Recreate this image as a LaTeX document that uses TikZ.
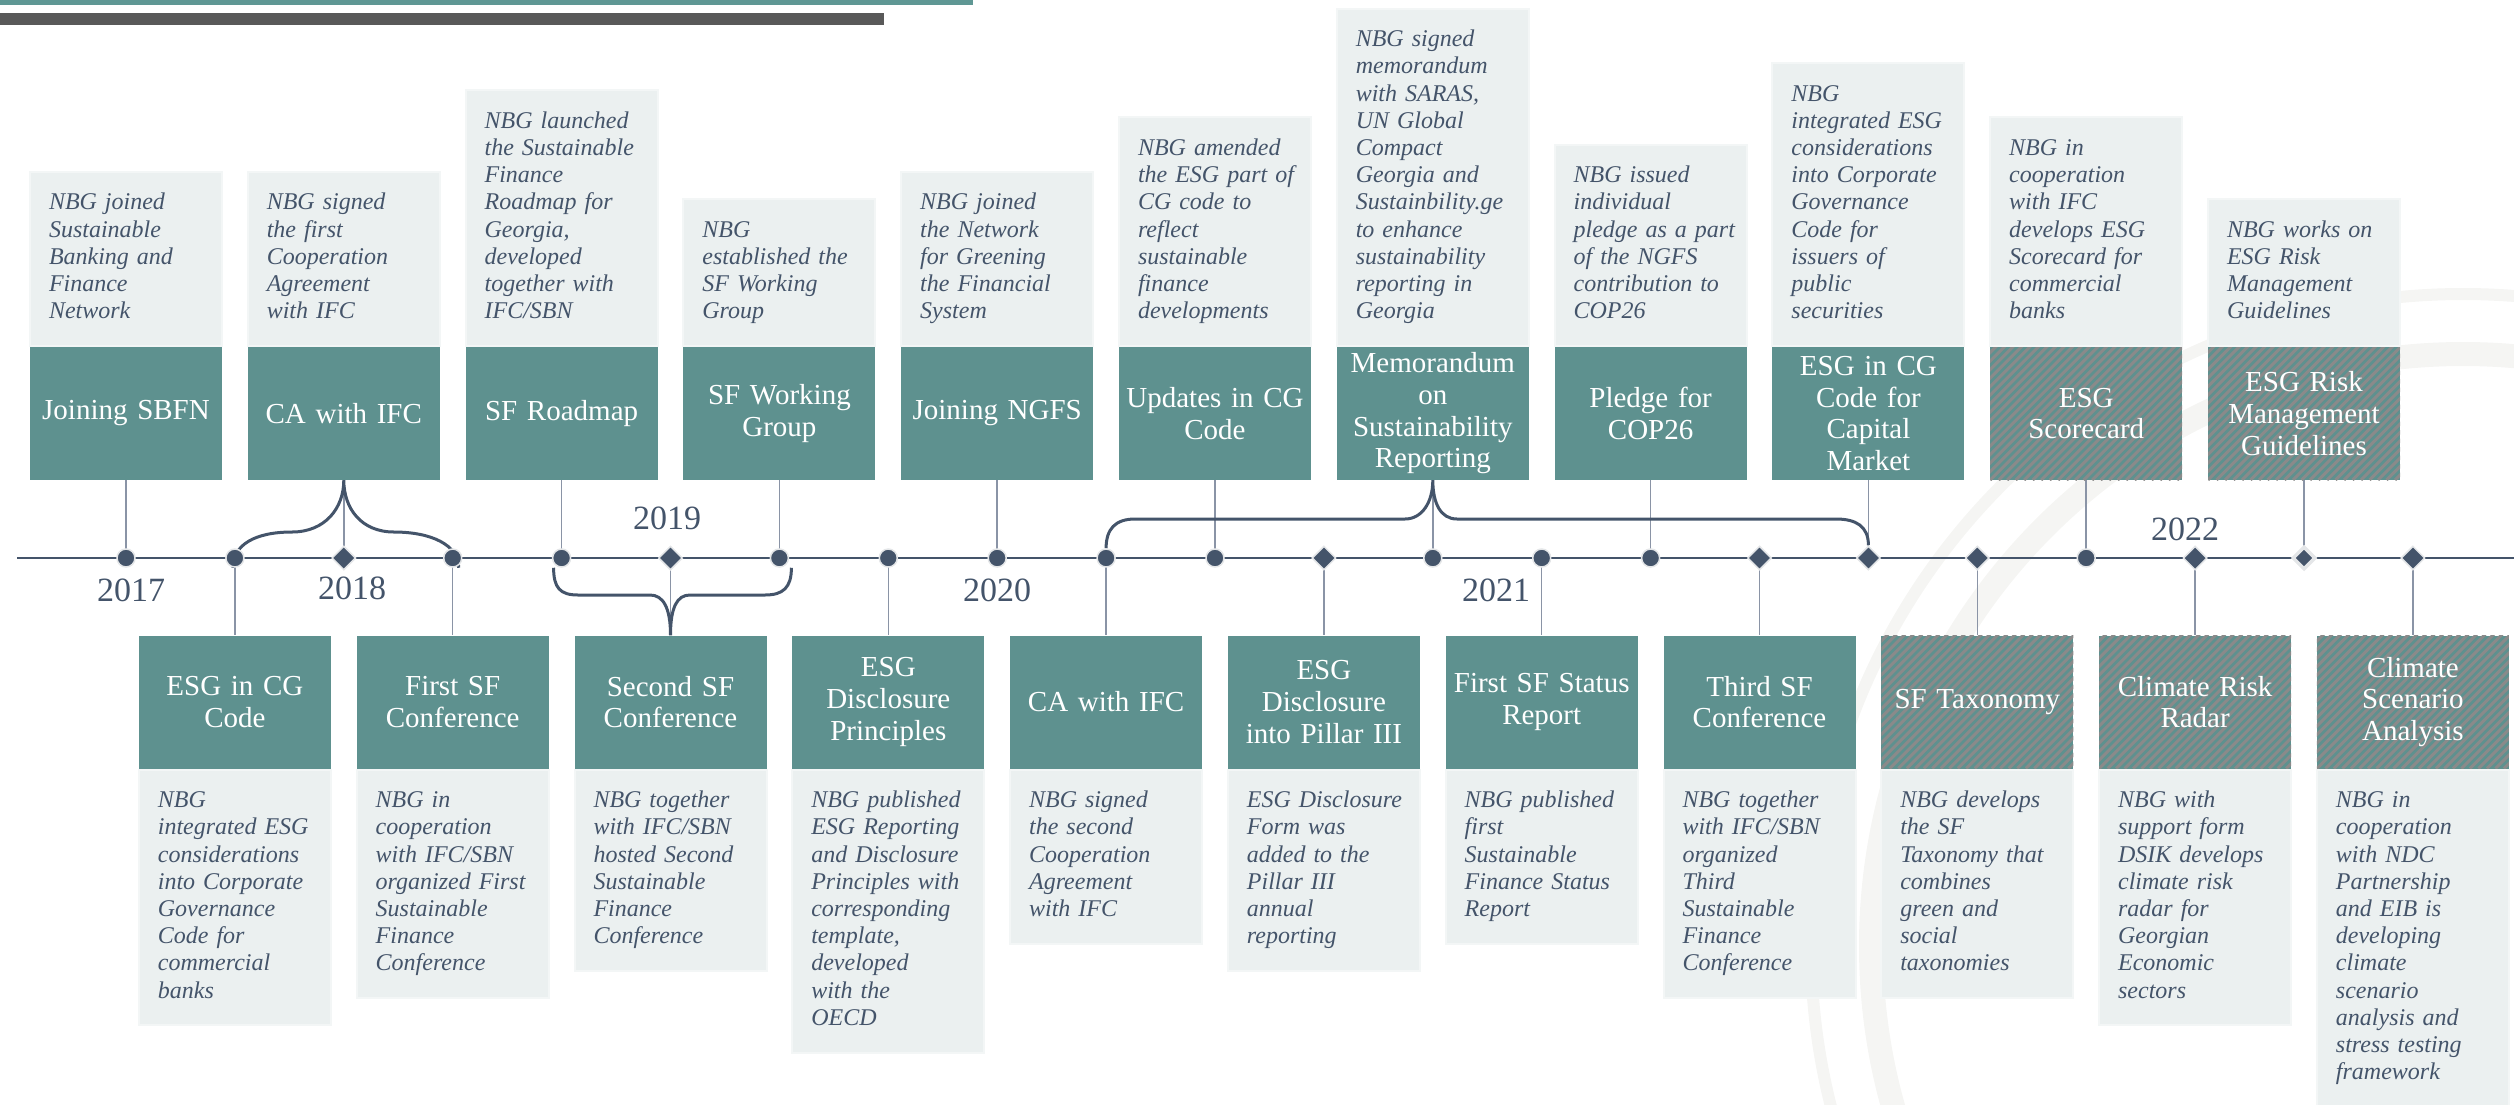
\documentclass[tikz,border=0pt]{standalone}
\usepackage{fontspec}
\setmainfont{Liberation Serif}
\usepackage{tikz}
\usetikzlibrary{shapes.geometric,backgrounds}
\definecolor{boxteal}{HTML}{5E918F}
\definecolor{barteal}{HTML}{5F9794}
\definecolor{bargray}{HTML}{595959}
\definecolor{descfill}{HTML}{EBF0F0}
\definecolor{descrim}{HTML}{F3F6F6}
\definecolor{slate}{HTML}{44546A}
\definecolor{linkgray}{HTML}{8A94A6}
\definecolor{halo}{HTML}{E4E6E8}
\definecolor{stripegray}{HTML}{8A8A8A}
\definecolor{sealgray}{HTML}{F5F5F3}
\newcommand{\headfont}{\fontsize{29}{31.7}\selectfont}
\newcommand{\descfont}{\fontsize{24}{27.2}\selectfont\itshape}
\tikzset{
    plain/.style={},
    headbox/.style={fill=boxteal, text=white, minimum width=192pt, minimum height=133pt,
        text width=186pt, align=center, inner sep=0pt, font=\headfont},
    hatched/.style={path picture={
        \foreach \k in {-17,...,24}{
            \draw[stripegray, line width=3pt] ([xshift=\k*8.5pt]path picture bounding box.south west) -- ++(200pt,200pt);
        }
    }},
    descbox/.style={fill=descfill, draw=descrim, line width=2pt, minimum width=192pt,
        text width=175pt, align=left, inner xsep=8.5pt, inner ysep=19pt, font=\descfont, text=slate,
        execute at begin node={\leftskip=10.5pt\strut}, execute at end node={\strut}},
    dotmark/.style={circle, fill=slate, draw=halo, line width=1.5pt, minimum size=18pt, inner sep=0pt},
    gemmark/.style={diamond, fill=slate, draw=halo, line width=1.5pt, minimum size=24pt, inner sep=0pt},
    gemsmall/.style={diamond, fill=slate, draw=halo, line width=3.5pt, minimum size=23pt, inner sep=0pt},
    yearlbl/.style={font=\fontsize{34}{34}\selectfont, text=slate},
    link/.style={linkgray, line width=1.5pt},
    brace/.style={slate, line width=3pt},
    seal/.style={sealgray, line width=#1},
    seal/.default=24pt
}
\begin{document}
\begin{tikzpicture}[x=1pt,y=1pt]
    \useasboundingbox (0,0) rectangle (2514,-1104);
    \fill[barteal] (0,0) rectangle (973,-5);
    \fill[bargray] (0,-13) rectangle (884,-25);

    \foreach \i/\sty/\hd/\dsc in {
        0/plain/{Joining SBFN}/{NBG joined\\Sustainable\\Banking and\\Finance\\Network},
        2/plain/{CA with IFC}/{NBG signed\\the first\\Cooperation\\Agreement\\with IFC},
        4/plain/{SF Roadmap}/{NBG launched\\the Sustainable\\Finance\\Roadmap for\\Georgia,\\developed\\together with\\IFC/SBN},
        6/plain/{SF Working\\Group}/{NBG\\established the\\SF Working\\Group},
        8/plain/{Joining NGFS}/{NBG joined\\the Network\\for Greening\\the Financial\\System},
        10/plain/{Updates in CG\\Code}/{NBG amended\\the ESG part of\\CG code to\\reflect\\sustainable\\finance\\developments},
        12/plain/{Memorandum\\on\\Sustainability\\Reporting}/{NBG signed\\memorandum\\with SARAS,\\UN Global\\Compact\\Georgia and\\Sustainbility.ge\\to enhance\\sustainability\\reporting in\\Georgia},
        14/plain/{Pledge for\\COP26}/{NBG issued\\individual\\pledge as a part\\of the NGFS\\contribution to\\COP26},
        16/plain/{ESG in CG\\Code for\\Capital\\Market}/{NBG\\integrated ESG\\considerations\\into Corporate\\Governance\\Code for\\issuers of\\public\\securities},
        18/hatched/{ESG\\Scorecard}/{NBG in\\cooperation\\with IFC\\develops ESG\\Scorecard for\\commercial\\banks},
        20/hatched/{ESG Risk\\Management\\Guidelines}/{NBG works on\\ESG Risk\\Management\\Guidelines}}{
        \node[headbox,\sty] (h\i) at (126+108.9*\i,-413.5) {\hd};
        \node[descbox,anchor=south] (d\i) at (h\i.north) {\dsc};
    }
    \foreach \i/\sty/\hd/\dsc in {
        1/plain/{ESG in CG\\Code}/{NBG\\integrated ESG\\considerations\\into Corporate\\Governance\\Code for\\commercial\\banks},
        3/plain/{First SF\\Conference}/{NBG in\\cooperation\\with IFC/SBN\\organized First\\Sustainable\\Finance\\Conference},
        5/plain/{Second SF\\Conference}/{NBG together\\with IFC/SBN\\hosted Second\\Sustainable\\Finance\\Conference},
        7/plain/{ESG\\Disclosure\\Principles}/{NBG published\\ESG Reporting\\and Disclosure\\Principles with\\corresponding\\template,\\developed\\with the\\OECD},
        9/plain/{CA with IFC}/{NBG signed\\the second\\Cooperation\\Agreement\\with IFC},
        11/plain/{ESG\\Disclosure\\into Pillar III}/{ESG Disclosure\\Form was\\added to the\\Pillar III\\annual\\reporting},
        13/plain/{First SF Status\\Report}/{NBG published\\first\\Sustainable\\Finance Status\\Report},
        15/plain/{Third SF\\Conference}/{NBG together\\with IFC/SBN\\organized\\Third\\Sustainable\\Finance\\Conference},
        17/hatched/{SF Taxonomy}/{NBG develops\\the SF\\Taxonomy that\\combines\\green and\\social\\taxonomies},
        19/hatched/{Climate Risk\\Radar}/{NBG with\\support form\\DSIK develops\\climate risk\\radar for\\Georgian\\Economic\\sectors},
        21/hatched/{Climate\\Scenario\\Analysis}/{NBG in\\cooperation\\with NDC\\Partnership\\and EIB is\\developing\\climate\\scenario\\analysis and\\stress testing\\framework}}{
        \node[headbox,\sty] (h\i) at (126+108.9*\i,-702) {\hd};
        \node[descbox,anchor=north] (d\i) at (h\i.south) {\dsc};
    }

    \foreach \i/\kind in {0/dotmark,1/dotmark,2/gemmark,3/dotmark,4/dotmark,5/gemmark,6/dotmark,
        7/dotmark,8/dotmark,9/dotmark,10/dotmark,11/gemmark,12/dotmark,13/dotmark,14/dotmark,
        15/gemmark,16/gemmark,17/gemmark,18/dotmark,19/gemmark,20/gemsmall,21/gemmark}{
        \node[\kind] (m\i) at (126+108.9*\i,-558) {};
    }

    \node[yearlbl] (y2017) at (131,-590) {2017};
    \node[yearlbl] (y2018) at (352,-588) {2018};
    \node[yearlbl] (y2019) at (667,-518) {2019};
    \node[yearlbl] (y2020) at (997,-590) {2020};
    \node[yearlbl] (y2021) at (1496,-590) {2021};
    \node[yearlbl] (y2022) at (2185,-529) {2022};

    \begin{pgfonlayer}{background}
        \draw[seal] (2463,-946) circle (592);
        \draw[seal=12pt] (2463,-946) circle (652);
        \coordinate (axisL) at (17,-558);
        \coordinate (axisR) at (2514,-558);
        \draw[slate, line width=2.7pt] (axisL) -- (axisR);
        \foreach \i in {0,2,...,20}{
            \draw[link] (m\i.center) -- (h\i.south);
        }
        \foreach \i in {1,3,...,21}{
            \draw[link] (m\i.center) -- (h\i.north);
        }
        \draw[brace] ([xshift=-2pt]m1.south) .. controls +(0,23) and +(-37,0) .. (292,-532)
            .. controls +(33,0) and +(0,-28) .. (h2.south)
            .. controls +(0,-28) and +(-33,0) .. (394,-532)
            .. controls +(37,0) and +(0,23) .. ([xshift=6pt]m3.south);
        \draw[brace] ([xshift=-8pt]m4.south) .. controls +(0,-20) and +(-18,0) .. (578,-595) -- (650,-595)
            .. controls +(13,0) and +(0,28) .. (h5.north)
            .. controls +(0,28) and +(-13,0) .. (690,-595) -- (765,-595)
            .. controls +(18,0) and +(0,-20) .. ([xshift=12pt]m6.south);
        \draw[brace] (m9.north) .. controls +(0,19) and +(-20,0) .. (1135,-519) -- (1405,-519)
            .. controls +(17,0) and +(0,-22) .. (h12.south)
            .. controls +(0,-22) and +(-17,0) .. (1457,-519) -- (1836,-519)
            .. controls +(20,0) and +(0,19) .. (m16.north);
    \end{pgfonlayer}
\end{tikzpicture}
\end{document}
